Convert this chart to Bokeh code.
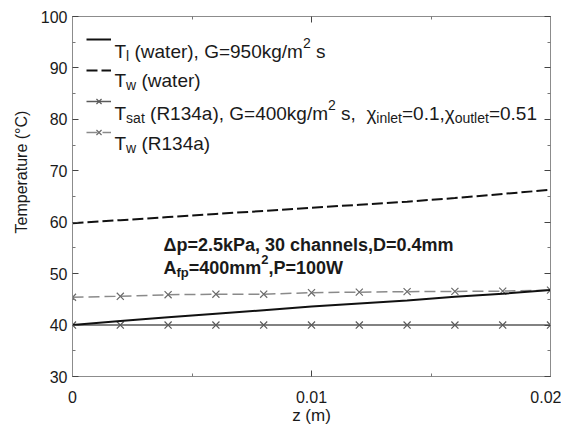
import math
from bokeh.plotting import figure
from bokeh.models import Range1d, FixedTicker, Label, Legend, LegendItem, LinearAxis
from bokeh.embed import file_html
from bokeh.resources import INLINE

# ---------------- data ----------------
z = [0.0, 0.002, 0.004, 0.006, 0.008, 0.010, 0.012, 0.014, 0.016, 0.018, 0.020]
t_l_water = [40.0, 40.8, 41.5, 42.2, 42.9, 43.6, 44.2, 44.8, 45.5, 46.1, 46.8]
t_w_water = [59.8, 60.4, 61.0, 61.6, 62.2, 62.8, 63.4, 64.0, 64.7, 65.5, 66.3]
t_sat_r134a = [40.0, 40.0, 40.0, 40.0, 40.0, 40.0, 40.0, 40.0, 40.0, 40.0, 40.0]
t_w_r134a = [45.4, 45.6, 45.9, 46.0, 46.0, 46.3, 46.4, 46.5, 46.55, 46.6, 46.8]

x_ticks = [0.0, 0.01, 0.02]
x_tick_labels = ["0", "0.01", "0.02"]
x_minor = [0.005, 0.015]
y_ticks = [30, 40, 50, 60, 70, 80, 90, 100]
y_minor = [35, 45, 55, 65, 75, 85, 95]

FONT = "Liberation Sans"
TXT = "#1a1a1a"
AXC = "#8c8c8c"

# frame geometry in picture pixels
PL, PT, PW, PH = 72, 16, 478, 360
X0, X1, Y0, Y1 = 0.0, 0.02, 30.0, 100.0


def X(px):
    return X0 + (px - PL) / PW * (X1 - X0)


def Y(py):
    return Y0 + (PT + PH - py) / PH * (Y1 - Y0)


p = figure(frame_width=PW, frame_height=PH,
           min_border_left=PL, min_border_right=11, min_border_top=PT, min_border_bottom=50,
           x_range=Range1d(X0, X1), y_range=Range1d(Y0, Y1),
           output_backend="svg", toolbar_location=None)
p.grid.visible = False
p.outline_line_color = AXC
p.outline_line_width = 1
p.background_fill_color = "white"
p.border_fill_color = "white"


def style_axis(ax):
    ax.major_tick_in = 6
    ax.major_tick_out = 0
    ax.minor_tick_in = 3
    ax.minor_tick_out = 0
    ax.axis_line_color = AXC
    ax.major_tick_line_color = "#444444"
    ax.minor_tick_line_color = "#777777"
    ax.major_label_text_font = FONT
    ax.major_label_text_color = TXT
    ax.major_label_text_font_size = "16px"
    ax.axis_label_text_font = FONT
    ax.axis_label_text_font_style = "normal"
    ax.axis_label_text_color = TXT


xt = FixedTicker(ticks=x_ticks, minor_ticks=x_minor)
yt = FixedTicker(ticks=y_ticks, minor_ticks=y_minor)

p.xaxis.ticker = xt
p.yaxis.ticker = yt
style_axis(p.xaxis[0])
style_axis(p.yaxis[0])
p.xaxis.major_label_overrides = {t: s for t, s in zip(x_ticks, x_tick_labels)}
p.xaxis.major_label_standoff = 14
p.yaxis.major_label_standoff = 5
p.xaxis.axis_label = "z (m)"
p.xaxis.axis_label_text_font_size = "17px"
p.xaxis.axis_label_standoff = 0
p.yaxis.axis_label = "\u00a0" * 11 + "Temperature (°C)"
p.yaxis.axis_label_text_font_size = "16px"
p.yaxis.axis_label_standoff = 8

top_ax = LinearAxis(ticker=xt, major_label_overrides={t: "" for t in x_ticks})
right_ax = LinearAxis(ticker=yt, major_label_overrides={t: "" for t in y_ticks})
for ax in (top_ax, right_ax):
    style_axis(ax)
    ax.major_label_text_font_size = "0px"
    ax.major_label_standoff = 0
p.add_layout(top_ax, "above")
p.add_layout(right_ax, "right")

# ---------------- series ----------------
r_sat_l = p.line(z, t_sat_r134a, line_color="#5a5a5a", line_width=1.5)
r_sat_m = p.scatter(z, t_sat_r134a, marker="x", size=10, line_color="#5a5a5a", line_width=1.2)
r_twr_l = p.line(z, t_w_r134a, line_color="#8a8a8a", line_width=1.5, line_dash="11 5")
r_twr_m = p.scatter(z, t_w_r134a, marker="x", size=10, line_color="#6a6a6a", line_width=1.2)
r_tww = p.line(z, t_w_water, line_color="#111111", line_width=2, line_dash="11 4")
r_tlw = p.line(z, t_l_water, line_color="#111111", line_width=2)

legend = Legend(items=[
    LegendItem(label=" ", renderers=[r_tlw]),
    LegendItem(label=" ", renderers=[r_tww]),
    LegendItem(label=" ", renderers=[r_sat_l, r_sat_m]),
    LegendItem(label=" ", renderers=[r_twr_l, r_twr_m]),
], location="top_left", margin=14, padding=0, spacing=13,
    glyph_height=18, glyph_width=25, label_height=18, label_width=1,
    label_standoff=0, label_text_font_size="8px",
    border_line_color=None, background_fill_alpha=0)
p.add_layout(legend, "center")

# ---------------- rich texts ----------------
REG = {' ': 278, '(': 333, ')': 333, ',': 278, '.': 278, '/': 278, '=': 584,
       'A': 667, 'D': 722, 'G': 778, 'P': 667, 'R': 722, 'T': 611, 'W': 944,
       'a': 556, 'c': 500, 'e': 556, 'g': 556, 'h': 556, 'i': 222, 'k': 500,
       'l': 222, 'm': 833, 'n': 556, 'o': 556, 'p': 556, 'r': 333, 's': 500,
       't': 278, 'u': 556, 'w': 722, 'z': 500, 'χ': 520, 'Δ': 668}
BOLD = {' ': 278, ',': 278, '.': 278, '=': 584, 'A': 722, 'D': 722, 'P': 667,
        'W': 944, 'a': 556, 'c': 556, 'e': 556, 'f': 333, 'h': 611, 'k': 556,
        'l': 278, 'm': 889, 'n': 611, 'p': 611, 's': 556, 'Δ': 620}


def width(text, size, bold):
    tbl = BOLD if bold else REG
    return sum((556 if ch.isdigit() else tbl.get(ch, 556)) for ch in text) * size / 1000.0


def rich(parts, x_px, base_px, size, bold=False, sub_scale=0.72):
    sub = round(size * sub_scale)
    x = x_px
    for text, kind in parts:
        if kind == "n":
            fs, dy = size, 0
        elif kind == "sub":
            fs, dy = sub, size * 0.28
        else:
            fs, dy = sub, -size * 0.42
        lead = len(text) - len(text.lstrip(" "))
        x += width(" " * lead, fs, bold)
        body = text.lstrip(" ")
        if body.strip():
            p.add_layout(Label(x=X(x), y=Y(base_px + dy), text=body.rstrip(" "),
                               text_font=FONT, text_font_size=f"{fs}px",
                               text_font_style="bold" if bold else "normal",
                               text_color=TXT, text_align="left",
                               text_baseline="alphabetic"))
        x += width(body, fs, bold)


LX = 114
rich([("T", "n"), ("l", "sub"), (" (water), G=950kg/m", "n"), ("2", "sup"), (" s", "n")], LX, 50.5, 19, sub_scale=0.75)
rich([("T", "n"), ("w", "sub"), (" (water)", "n")], LX, 79.5, 19, sub_scale=0.75)
rich([("T", "n"), ("sat", "sub"), (" (R134a), G=400kg/m", "n"), ("2", "sup"), (" s,  ", "n"),
      ("χ", "n"), ("inlet", "sub"), ("=0.1,", "n"), ("χ", "n"), ("outlet", "sub"), ("=0.51", "n")],
     LX, 112.5, 19, sub_scale=0.75)
rich([("T", "n"), ("w", "sub"), (" (R134a)", "n")], LX, 142.5, 19, sub_scale=0.75)

rich([("Δp=2.5kPa, 30 channels,D=0.4mm", "n")], 163, 244, 18, bold=True)
rich([("A", "n"), ("fp", "sub"), ("=400mm", "n"), ("2", "sup"), (",P=100W", "n")], 163, 267, 18, bold=True)

open("out.html", "w").write(file_html(p, INLINE))
